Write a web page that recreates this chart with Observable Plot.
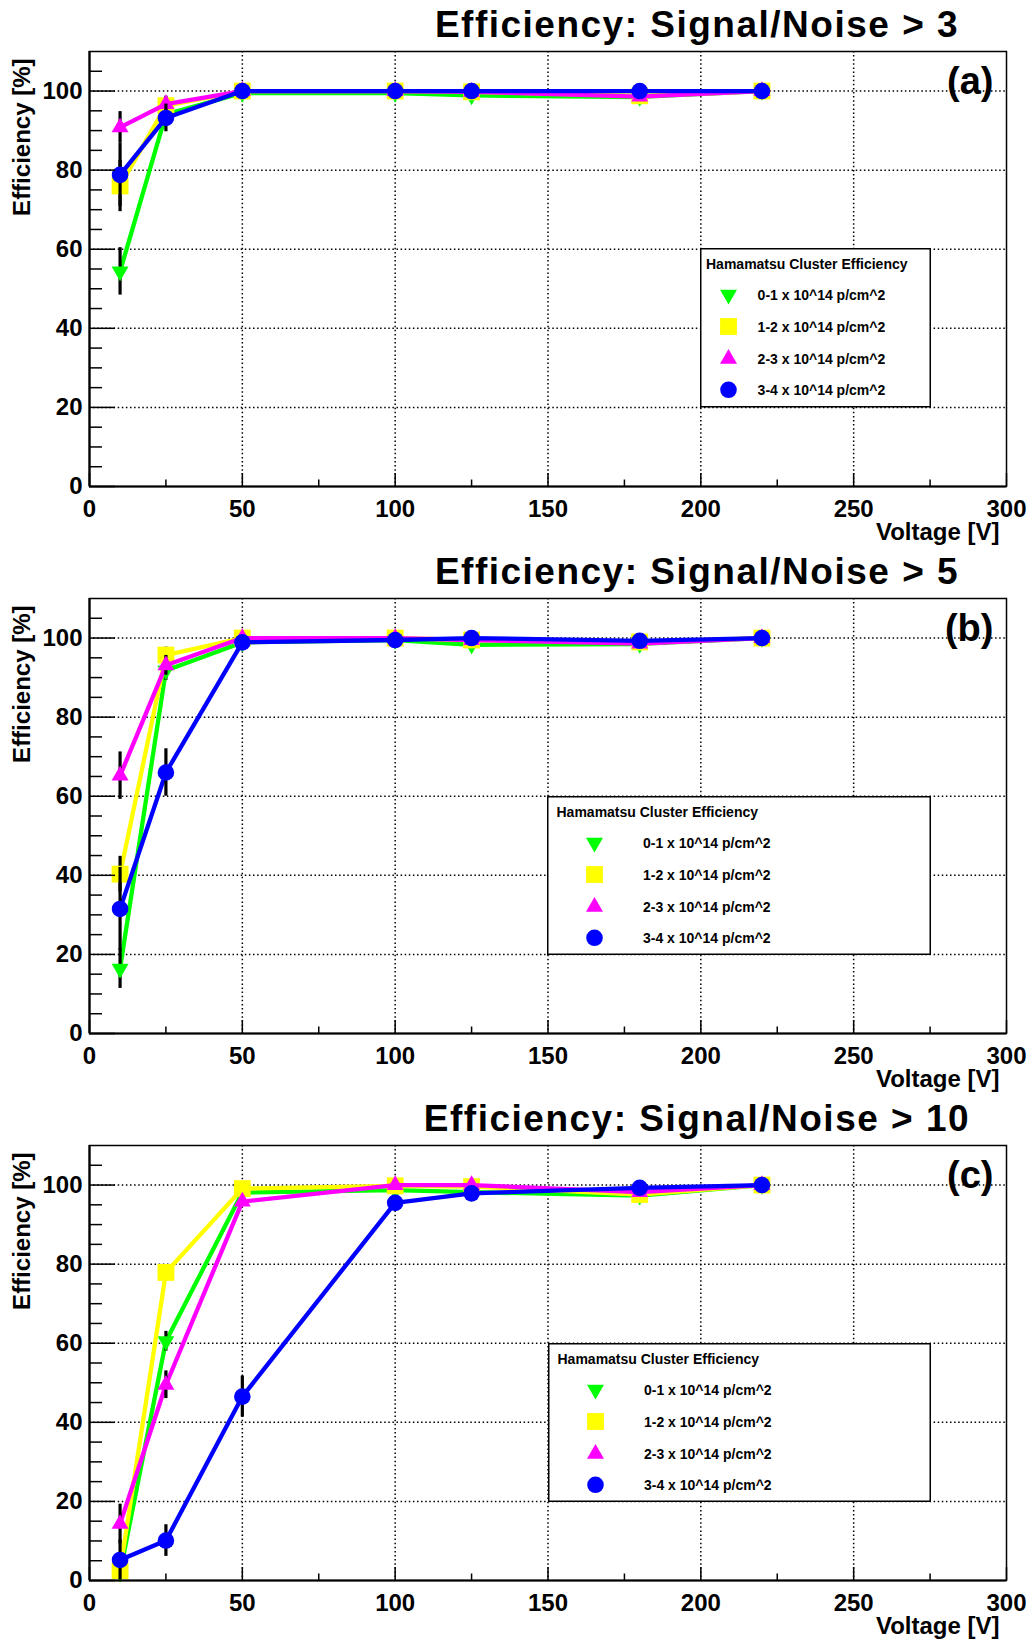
<!DOCTYPE html>
<html><head><meta charset="utf-8">
<script src="https://cdn.jsdelivr.net/npm/d3@7"></script>
<script src="https://cdn.jsdelivr.net/npm/@observablehq/plot@0.6"></script>
<style>
body{margin:0;background:#fff;}
.panel{position:relative;width:1031px;overflow:hidden;}
.panel > svg{display:block;}
.legend{position:absolute;}
</style></head><body><div id="root"></div>
<script>
// ---- data ----
const voltages = [10, 25, 50, 100, 125, 180, 220];
const fluenceBins = ["0-1 x 10^14 p/cm^2", "1-2 x 10^14 p/cm^2", "2-3 x 10^14 p/cm^2", "3-4 x 10^14 p/cm^2"];
const panelTitles = ["Efficiency: Signal/Noise > 3", "Efficiency: Signal/Noise > 5", "Efficiency: Signal/Noise > 10"];
const panelTags = ["(a)", "(b)", "(c)"];
const legendTitle = "Hamamatsu Cluster Efficiency";
const xAxisLabel = "Voltage [V]";
const yAxisLabel = "Efficiency [%]";
const xTicks = [0, 50, 100, 150, 200, 250, 300];
const xMinorTicks = [25, 75, 125, 175, 225, 275];
const yTicks = [0, 20, 40, 60, 80, 100];
const yMinorTicks = [5, 10, 15, 25, 30, 35, 45, 50, 55, 65, 70, 75, 85, 90, 95, 105];

// Signal/Noise > 3
const sn3_f01 = [54.4, 94.1, 99.5, 99.5, 98.9, 98.5, 100];
const sn3_f12 = [76.0, 96.3, 100, 100, 99.8, 98.8, 100];
const sn3_f23 = [90.8, 96.7, 100, 100, 99.8, 98.6, 100];
const sn3_f34 = [78.8, 93.2, 100, 100, 100, 100, 100];
const sn3_e01 = [6, 2.5, 0.5, 0.5, 0.5, 0.6, 0.3];
const sn3_e12 = [6.5, 2, 0.3, 0.3, 0.3, 0.6, 0.3];
const sn3_e23 = [4, 2, 0.3, 0.3, 0.3, 0.6, 0.3];
const sn3_e34 = [8, 3.5, 0.3, 0.3, 0.3, 0.3, 0.3];

// Signal/Noise > 5
const sn5_f01 = [16.4, 91.8, 98.9, 99.5, 98.3, 98.5, 100];
const sn5_f12 = [40.3, 95.7, 100, 100, 99.5, 99.0, 100];
const sn5_f23 = [65.2, 93.1, 100, 100, 99.5, 98.6, 100];
const sn5_f34 = [31.5, 66.0, 98.9, 99.5, 100, 99.3, 100];
const sn5_e01 = [5, 2.5, 0.5, 0.5, 0.6, 0.6, 0.3];
const sn5_e12 = [4.5, 2, 0.3, 0.3, 0.4, 0.5, 0.3];
const sn5_e23 = [6, 2.5, 0.3, 0.3, 0.4, 0.6, 0.3];
const sn5_e34 = [10.5, 6, 0.6, 0.4, 0.3, 0.4, 0.3];

// Signal/Noise > 10
const sn10_f01 = [2.0, 60.5, 98.1, 98.7, 98.2, 97.3, 100];
const sn10_f12 = [2.5, 77.9, 99.1, 99.8, 99.6, 97.6, 100];
const sn10_f23 = [14.3, 49.5, 95.8, 100, 100, 98.2, 100];
const sn10_f34 = [5.2, 10.1, 46.5, 95.5, 97.9, 99.3, 100];
const sn10_e01 = [1.5, 2.5, 0.7, 0.6, 0.6, 0.8, 0.3];
const sn10_e12 = [2, 1.8, 0.5, 0.3, 0.3, 0.8, 0.3];
const sn10_e23 = [5, 3.5, 1, 0.3, 0.3, 0.7, 0.3];
const sn10_e34 = [5, 4, 5.2, 1.5, 1, 0.5, 0.3];

// ---- styling ----
const colors = ["#00ff00", "#ffff00", "#ff00ff", "#0000ff"];
const symbols = ["triangle", "square", "triangle", "circle"];
const rotations = [180, 0, 0, 0];
const radii = [6.3, 9.5, 6.3, 8.3];
const FONT = "'Liberation Sans', Arial, Helvetica, sans-serif";

const panels = [
  {title: panelTitles[0], tag: panelTags[0], values: [sn3_f01, sn3_f12, sn3_f23, sn3_f34], errors: [sn3_e01, sn3_e12, sn3_e23, sn3_e34],
   height: 547, legend: {left: 700, top: 248, width: 229.5, height: 158, titleDx: 6, markerDx: 28.5, textDx: 57.6}},
  {title: panelTitles[1], tag: panelTags[1], values: [sn5_f01, sn5_f12, sn5_f23, sn5_f34], errors: [sn5_e01, sn5_e12, sn5_e23, sn5_e34],
   height: 547, legend: {left: 547, top: 249, width: 382.5, height: 157.5, titleDx: 9.5, markerDx: 47.5, textDx: 96}},
  {title: panelTitles[2], tag: panelTags[2], values: [sn10_f01, sn10_f12, sn10_f23, sn10_f34], errors: [sn10_e01, sn10_e12, sn10_e23, sn10_e34],
   height: 545, legend: {left: 548, top: 249, width: 381.5, height: 157.5, titleDx: 9.5, markerDx: 47.5, textDx: 96}}
];

const root = document.getElementById("root");

for (const p of panels) {
  const series = p.values.map((vals, i) => voltages.map((V, j) => ({V, eff: vals[j], err: p.errors[i][j], bin: fluenceBins[i]})));
  const dotted = {stroke: "#000", strokeOpacity: 1, strokeWidth: 1.5, strokeDasharray: "1.5,2.6"};
  const marks = [
    Plot.gridX([50, 100, 150, 200, 250], dotted),
    Plot.gridY([20, 40, 60, 80, 100], dotted)
  ];
  series.forEach((rows, i) => {
    marks.push(Plot.line(rows, {x: "V", y: "eff", stroke: colors[i], strokeWidth: 4.3}));
    marks.push(Plot.ruleX(rows, {x: "V", y1: d => d.eff - d.err, y2: d => d.eff + d.err, stroke: "#000", strokeWidth: 3.2}));
    marks.push(Plot.dot(rows, {x: "V", y: "eff", symbol: symbols[i], r: radii[i], fill: colors[i], stroke: "none", rotate: rotations[i]}));
  });
  marks.push(
    Plot.frame({stroke: "#000", strokeWidth: 1.5}),
    Plot.ruleY([0], {stroke: "#000", strokeWidth: 2.2}),
    Plot.ruleX([0], {stroke: "#000", strokeWidth: 2.2}),
    Plot.axisX({ticks: xTicks, tickSize: 13, dy: -13, tickFormat: () => "", strokeWidth: 1.5, label: null}),
    Plot.axisX({ticks: xMinorTicks, tickSize: 6.5, dy: -6.5, tickFormat: () => "", strokeWidth: 1.5, label: null}),
    Plot.axisX({ticks: xTicks, tickSize: 0, tickPadding: 13, fontSize: 24, fontWeight: "bold", label: null}),
    Plot.axisY({ticks: yTicks, tickSize: 26, dx: 26, tickFormat: () => "", strokeWidth: 1.5, label: null}),
    Plot.axisY({ticks: yMinorTicks, tickSize: 13, dx: 13, tickFormat: () => "", strokeWidth: 1.5, label: null}),
    Plot.axisY({ticks: yTicks, tickSize: 0, tickPadding: 7, fontSize: 24, fontWeight: "bold", label: null}),
    Plot.text([p.title], {text: d => d, frameAnchor: "top", dx: 149, dy: -15, lineAnchor: "bottom", fontSize: 37, fontWeight: "bold", fill: "#000"}),
    Plot.text([p.tag], {text: d => d, frameAnchor: "top-right", textAnchor: "end", dx: -13, dy: 42, lineAnchor: "bottom", fontSize: 38, fontWeight: "bold", fill: "#000"}),
    Plot.text([xAxisLabel], {text: d => d, frameAnchor: "bottom-right", textAnchor: "end", dx: -7, dy: 53, lineAnchor: "bottom", fontSize: 24, fontWeight: "bold", fill: "#000"}),
    Plot.text([yAxisLabel], {text: d => d, frameAnchor: "top-left", textAnchor: "end", rotate: -90, dx: -60, dy: 7, lineAnchor: "bottom", fontSize: 24, fontWeight: "bold", fill: "#000"})
  );

  const chart = Plot.plot({
    width: 1031,
    height: p.height,
    marginTop: 51,
    marginBottom: p.height - 486,
    marginLeft: 89,
    marginRight: 25,
    x: {domain: [0, 300], label: null},
    y: {domain: [0, 110], label: null},
    style: {fontFamily: FONT, color: "#000", background: "#fff", overflow: "visible"},
    marks
  });
  // widen the panel title slightly, as in the original rendering
  d3.select(chart).selectAll("text")
    .filter(function() { return this.textContent === p.title; })
    .style("letter-spacing", "1.5px");

  const div = document.createElement("div");
  div.className = "panel";
  div.style.height = p.height + "px";
  div.appendChild(chart);

  // legend box
  const L = p.legend;
  const svg = d3.select(div).append("svg").attr("class", "legend")
    .style("left", L.left + "px").style("top", L.top + "px")
    .attr("width", L.width + 2).attr("height", L.height + 2)
    .style("font-family", FONT).style("font-weight", "bold");
  svg.append("rect").attr("x", 0.75).attr("y", 0.75).attr("width", L.width).attr("height", L.height)
    .attr("fill", "#fff").attr("stroke", "#000").attr("stroke-width", 1.5);
  svg.append("text").attr("x", L.titleDx).attr("y", 15.6 + 5).attr("font-size", 14).text(legendTitle);
  const rowY = [46.7, 78.5, 110.8, 141.8];
  fluenceBins.forEach((label, i) => {
    const area = Math.PI * radii[i] * radii[i];
    const sym = {triangle: d3.symbolTriangle, square: d3.symbolSquare, circle: d3.symbolCircle}[symbols[i]];
    svg.append("path").attr("d", d3.symbol(sym, area)())
      .attr("transform", `translate(${L.markerDx},${rowY[i]}) rotate(${rotations[i]})`)
      .attr("fill", colors[i]);
    svg.append("text").attr("x", L.textDx).attr("y", rowY[i] + 5).attr("font-size", 14).text(label);
  });

  root.appendChild(div);
}
</script>
</body></html>
